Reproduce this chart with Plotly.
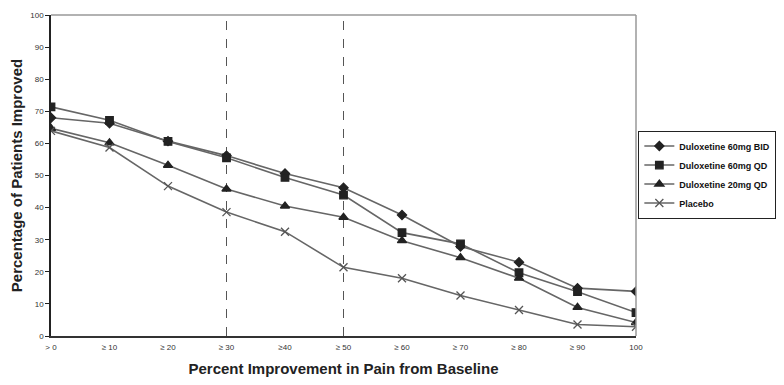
import plotly.graph_objects as go

categories = ["> 0", "≥ 10", "≥ 20", "≥ 30", "≥40", "≥ 50", "≥ 60", "≥ 70", "≥ 80", "≥ 90", "100"]
bid_60 = [68.0, 66.3, 60.7, 56.2, 50.6, 46.2, 37.7, 27.9, 23.0, 14.9, 13.9]
qd_60 = [71.4, 67.2, 60.6, 55.5, 49.4, 43.9, 32.2, 28.7, 19.7, 13.8, 7.3]
qd_20 = [64.7, 60.2, 53.2, 45.8, 40.5, 37.0, 29.7, 24.4, 18.0, 8.9, 4.2]
placebo = [63.9, 58.7, 46.7, 38.6, 32.5, 21.4, 18.0, 12.6, 8.1, 3.6, 2.9]
y_ticks = [0, 10, 20, 30, 40, 50, 60, 70, 80, 90, 100]
ref_lines = [3, 5]

xs = list(range(len(categories)))
FONT = "Liberation Sans, Arial, sans-serif"

series = [
    ("Duloxetine 60mg BID", bid_60, "diamond", 7, "#222222"),
    ("Duloxetine 60mg QD", qd_60, "square", 7.5, "#222222"),
    ("Duloxetine 20mg QD", qd_20, "triangle-up", 8, "#222222"),
    ("Placebo", placebo, "x-thin-open", 8, "#555555"),
]

fig = go.Figure()
for name, vals, sym, size, mcol in series:
    fig.add_trace(go.Scatter(
        x=xs, y=vals, name=name, mode="lines+markers",
        line=dict(color="#666666", width=1.6),
        marker=dict(symbol=sym, size=size, color=mcol,
                    line=dict(color=mcol, width=1.3)),
    ))

for xv in ref_lines:
    fig.add_shape(type="line", x0=xv, x1=xv, y0=0, y1=100, xref="x", yref="y",
                  line=dict(color="#555555", width=1, dash="dash"), layer="below")

# page body has an 8px default margin, so the figure is 8px smaller
fig.update_layout(
    width=776, height=377,
    margin=dict(l=43, r=148, t=7, b=49),
    paper_bgcolor="white", plot_bgcolor="white",
    font=dict(family=FONT, color="#222222"),
    showlegend=True,
    legend=dict(x=1.004, y=0.64, xanchor="left", yanchor="top",
                bordercolor="#222222", borderwidth=1, bgcolor="white",
                font=dict(size=9, family=FONT, color="#111111", weight="bold"),
                itemwidth=30, tracegroupgap=0),
    xaxis=dict(
        range=[0, 10], tickmode="array", tickvals=xs, ticktext=categories,
        tickfont=dict(size=8, color="#333333"),
        showgrid=False, zeroline=False, automargin=False,
        showline=True, linecolor="#333333", linewidth=2, mirror=False,
        ticks="", ticklabelstandoff=2,
        title=dict(text="<b>Percent Improvement in Pain from Baseline</b>",
                   font=dict(size=15, color="#222222"), standoff=13),
    ),
    yaxis=dict(
        range=[0, 100], tickvals=y_ticks,
        tickfont=dict(size=8, color="#333333"),
        showgrid=False, zeroline=False, automargin=False,
        showline=True, linecolor="#222222", linewidth=1.5,
        ticks="outside", ticklen=4, tickcolor="#222222",
        title=dict(text="<b>Percentage of Patients Improved</b>",
                   font=dict(size=15, color="#222222"), standoff=6),
    ),
)

# gray border on top and right
fig.add_shape(type="line", x0=0, x1=1, y0=1, y1=1, xref="paper", yref="paper",
              line=dict(color="#999999", width=1.5))
fig.add_shape(type="line", x0=1, x1=1, y0=0, y1=1, xref="paper", yref="paper",
              line=dict(color="#999999", width=1.5))

fig.write_html("out.html")
